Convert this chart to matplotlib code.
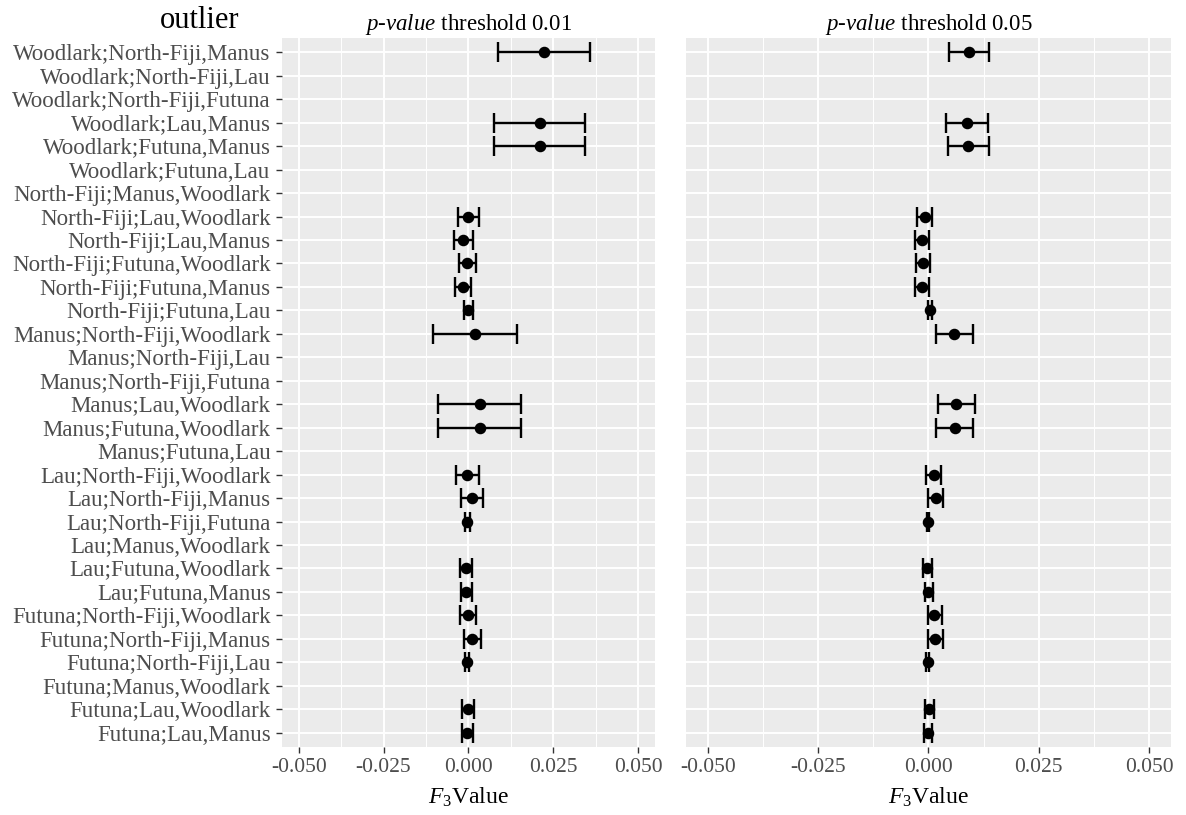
import numpy as np
import matplotlib
matplotlib.use("Agg")
import matplotlib.pyplot as plt

nan = np.nan

labels = [
    "Woodlark;North-Fiji,Manus", "Woodlark;North-Fiji,Lau", "Woodlark;North-Fiji,Futuna",
    "Woodlark;Lau,Manus", "Woodlark;Futuna,Manus", "Woodlark;Futuna,Lau",
    "North-Fiji;Manus,Woodlark", "North-Fiji;Lau,Woodlark", "North-Fiji;Lau,Manus",
    "North-Fiji;Futuna,Woodlark", "North-Fiji;Futuna,Manus", "North-Fiji;Futuna,Lau",
    "Manus;North-Fiji,Woodlark", "Manus;North-Fiji,Lau", "Manus;North-Fiji,Futuna",
    "Manus;Lau,Woodlark", "Manus;Futuna,Woodlark", "Manus;Futuna,Lau",
    "Lau;North-Fiji,Woodlark", "Lau;North-Fiji,Manus", "Lau;North-Fiji,Futuna",
    "Lau;Manus,Woodlark", "Lau;Futuna,Woodlark", "Lau;Futuna,Manus",
    "Futuna;North-Fiji,Woodlark", "Futuna;North-Fiji,Manus", "Futuna;North-Fiji,Lau",
    "Futuna;Manus,Woodlark", "Futuna;Lau,Woodlark", "Futuna;Lau,Manus",
]

# p-value threshold 0.01
f3_01 = [0.0224, nan, nan, 0.0212, 0.0212, nan, nan, 0.0000, -0.0015, -0.0003,
         -0.0017, 0.0000, 0.0020, nan, nan, 0.0033, 0.0033, nan, -0.0003, 0.0010,
         -0.0003, nan, -0.0006, -0.0006, -0.0001, 0.0012, -0.0005, nan, -0.0002, -0.0003]
lo_01 = [0.0088, nan, nan, 0.0075, 0.0075, nan, nan, -0.0031, -0.0043, -0.0027,
         -0.0040, -0.0012, -0.0103, nan, nan, -0.0089, -0.0089, nan, -0.0036, -0.0022,
         -0.0011, nan, -0.0024, -0.0021, -0.0025, -0.0014, -0.0011, nan, -0.0020, -0.0019]
hi_01 = [0.0359, nan, nan, 0.0344, 0.0344, nan, nan, 0.0032, 0.0015, 0.0023,
         0.0009, 0.0013, 0.0143, nan, nan, 0.0155, 0.0155, nan, 0.0030, 0.0042,
         0.0005, nan, 0.0011, 0.0010, 0.0023, 0.0037, 0.0002, nan, 0.0016, 0.0013]

# p-value threshold 0.05
f3_05 = [0.0091, nan, nan, 0.0087, 0.0090, nan, nan, -0.0009, -0.0014, -0.0012,
         -0.0014, 0.0003, 0.0057, nan, nan, 0.0063, 0.0059, nan, 0.0012, 0.0016,
         -0.0001, nan, -0.0003, 0.0000, 0.0013, 0.0015, -0.0002, nan, 0.0002, -0.0002]
lo_05 = [0.0046, nan, nan, 0.0040, 0.0044, nan, nan, -0.0025, -0.0030, -0.0029,
         -0.0030, -0.0002, 0.0016, nan, nan, 0.0021, 0.0016, nan, -0.0005, 0.0000,
         -0.0004, nan, -0.0013, -0.0009, -0.0002, 0.0000, -0.0005, nan, -0.0008, -0.0011]
hi_05 = [0.0138, nan, nan, 0.0134, 0.0137, nan, nan, 0.0007, 0.0002, 0.0004,
         0.0002, 0.0008, 0.0100, nan, nan, 0.0106, 0.0102, nan, 0.0029, 0.0034,
         0.0002, nan, 0.0007, 0.0010, 0.0030, 0.0032, 0.0001, nan, 0.0013, 0.0008]

xticks = [-0.050, -0.025, 0.000, 0.025, 0.050]
xtick_labels = ["-0.050", "-0.025", "0.000", "0.025", "0.050"]
minor_xticks = [-0.0375, -0.0125, 0.0125, 0.0375]
titles = ["$\\mathit{p}$-$\\mathit{value}$ threshold 0.01",
          "$\\mathit{p}$-$\\mathit{value}$ threshold 0.05"]

plt.rcParams['font.family'] = ['Liberation Serif', 'DejaVu Serif']
plt.rcParams['mathtext.fontset'] = 'custom'
plt.rcParams['mathtext.rm'] = 'Liberation Serif'
plt.rcParams['mathtext.it'] = 'Liberation Serif:italic'

W, H = 1186, 815
fig = plt.figure(figsize=(W / 100, H / 100), dpi=100)

top = 38.2
bottom = 746.8
panels = [(281.7, 655.0), (686.0, 1171.0)]

series = [(f3_01, lo_01, hi_01), (f3_05, lo_05, hi_05)]
ypos = np.arange(len(labels))

for i, ((x0, x1), (est, lo, hi)) in enumerate(zip(panels, series)):
    ax = fig.add_axes([x0 / W, 1 - bottom / H, (x1 - x0) / W, (bottom - top) / H])
    ax.set_facecolor('#EBEBEB')
    for s in ax.spines.values():
        s.set_visible(False)
    est = np.array(est); lo = np.array(lo); hi = np.array(hi)
    ax.errorbar(est, ypos, xerr=[est - lo, hi - est], fmt='o', color='black',
                ecolor='black', elinewidth=1.7, capsize=7.2, capthick=1.7,
                markersize=7.3, zorder=3)
    ax.set_xlim(-0.055, 0.055)
    ax.set_ylim(len(labels) - 1 + 0.6, -0.6)
    ax.set_xticks(xticks)
    ax.set_xticklabels(xtick_labels)
    ax.set_xticks(minor_xticks, minor=True)
    ax.set_yticks(ypos)
    ax.grid(which='major', color='white', linewidth=1.4)
    ax.grid(which='minor', axis='x', color='white', linewidth=0.7)
    ax.set_axisbelow(True)
    ax.tick_params(axis='x', which='major', length=4, width=1.0, color='#333333',
                   labelcolor='#4D4D4D', labelsize=15.5, pad=4)
    ax.tick_params(axis='x', which='minor', length=0)
    if i == 0:
        ax.set_yticklabels(labels)
        ax.tick_params(axis='y', length=4, width=1.0, color='#333333',
                       labelcolor='#4D4D4D', labelsize=16.5, pad=4)
    else:
        ax.set_yticklabels([])
        ax.tick_params(axis='y', length=0)
    ax.set_xlabel("$\\mathit{F}_{\\mathit{3}}$Value", fontsize=17, labelpad=6)
    ax.set_title(titles[i], fontsize=16.5, pad=6)

fig.text(200 / W, 1 - 28 / H, "outlier", fontsize=22, ha='center', va='baseline')

fig.savefig("out.png", dpi=100)
